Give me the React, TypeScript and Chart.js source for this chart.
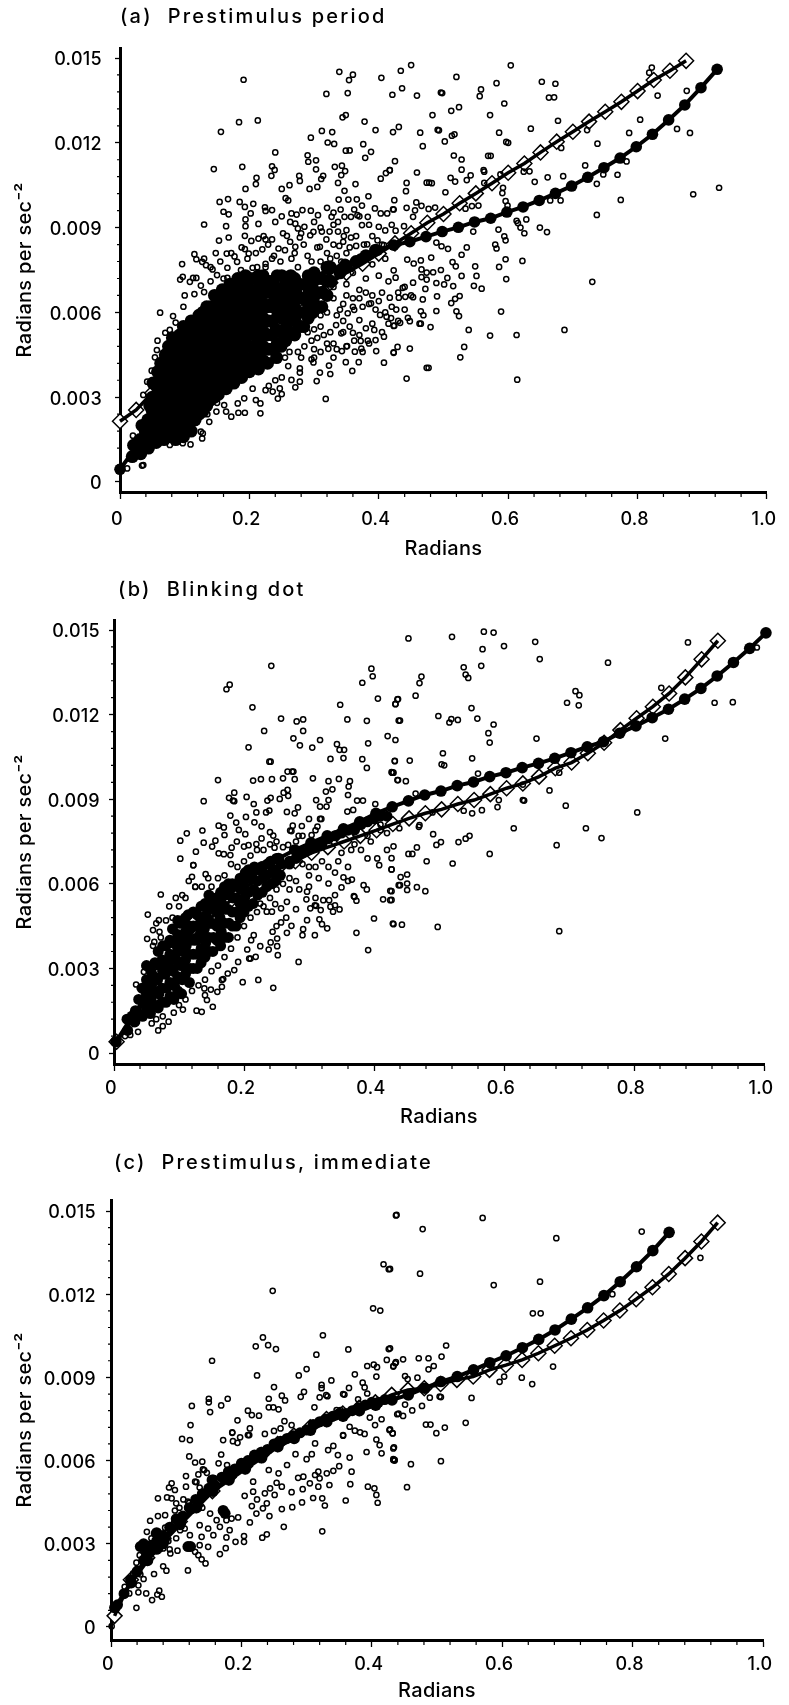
import React, { useEffect, useRef } from "react";
import { Chart, registerables } from "chart.js";

Chart.register(...registerables);

const FONT = "Inter, 'Liberation Sans', Arial, sans-serif";

const xTickValues = [0, 0.2, 0.4, 0.6, 0.8, 1.0];
const xTickLabels = ["0", "0.2", "0.4", "0.6", "0.8", "1.0"];
const yTickValues = [0, 0.003, 0.006, 0.009, 0.012, 0.015];
const yTickLabels = ["0", "0.003", "0.006", "0.009", "0.012", "0.015"];
const xMinorTicks = [0.04, 0.08, 0.12, 0.16, 0.24, 0.28, 0.32, 0.36, 0.44, 0.48, 0.52, 0.56, 0.64, 0.68, 0.72, 0.76, 0.84, 0.88, 0.92, 0.96];
const yMinorTicks = [0.0006, 0.0012, 0.0018, 0.0024, 0.0036, 0.0042, 0.0048, 0.0054, 0.0066, 0.0072, 0.0078, 0.0084, 0.0096, 0.0102, 0.0108, 0.0114, 0.0126, 0.0132, 0.0138, 0.0144];

// (a) Prestimulus period: fitted curves
const aDiamondX = [0, .025, .05, .075, .1, .125, .15, .175, .2, .225, .25, .275, .3, .325, .35, .375, .4, .425, .45, .475, .5, .525, .55, .575, .6, .625, .65, .675, .7, .725, .75, .775, .8, .825, .85, .875];
const aDiamondY = [.00215, .00255, .00315, .00355, .00392, .0043, .00465, .005, .00535, .0057, .00605, .0064, .00672, .00705, .0074, .00772, .00808, .00844, .0088, .00917, .00948, .00986, .01021, .01057, .01094, .01127, .01166, .01204, .01239, .01275, .0131, .01345, .01383, .01422, .01455, .0149];
const aCircleX = [.0, .024, .048, .073, .098, .123, .148, .173, .198, .223, .248, .273, .298, .323, .348, .373, .398, .423, .448, .473, .498, .523, .548, .573, .598, .623, .648, .673, .698, .723, .748, .773, .798, .823, .848, .873, .898, .923];
const aCircleY = [.00045, .0012, .002, .0028, .0035, .0042, .0048, .0054, .0059, .0063, .0067, .007, .00725, .0075, .0077, .0079, .0082, .00838, .0085, .00868, .00886, .00901, .0092, .00933, .00955, .00973, .00996, .01021, .01047, .01078, .01112, .01146, .01186, .0123, .01281, .01334, .01395, .0146];

// (b) Blinking dot: fitted curves
const bDiamondX = [.004, .029, .054, .079, .104, .129, .154, .179, .204, .229, .254, .279, .304, .329, .354, .379, .404, .429, .454, .479, .504, .529, .554, .579, .604, .629, .654, .679, .704, .729, .754, .779, .804, .829, .854, .879, .904, .929];
const bDiamondY = [.0004, .0012, .0021, .0029, .0036, .0043, .0049, .0054, .0059, .0063, .0066, .0068, .0071, .0073, .0075, .0077, .0079, .00812, .00832, .0085, .00864, .00883, .00897, .00918, .00939, .00956, .0098, .0101, .0103, .01063, .011, .01145, .01187, .01228, .01275, .01332, .01396, .01462];
const bCircleX = [.003, .028, .053, .078, .103, .128, .153, .178, .203, .228, .253, .278, .303, .328, .353, .378, .403, .428, .453, .478, .503, .528, .553, .578, .603, .628, .653, .678, .703, .728, .753, .778, .803, .828, .853, .878, .903, .928, .953, .978, 1.003];
const bCircleY = [.0004, .0013, .0021, .003, .0038, .0045, .0052, .0058, .0062, .0066, .0069, .0072, .00745, .0077, .00795, .0082, .0085, .00873, .00894, .00915, .00929, .00948, .00961, .0098, .00994, .01012, .01027, .01045, .01065, .01086, .01104, .01134, .0116, .01189, .01219, .01255, .01293, .01337, .01385, .01435, .0149];

// (c) Prestimulus, immediate: fitted curves
const cDiamondX = [.0055, .0305, .0555, .0805, .1055, .1305, .1555, .1805, .2055, .2305, .2555, .2805, .3055, .3305, .3555, .3805, .4055, .4305, .4555, .4805, .5055, .5305, .5555, .5805, .6055, .6305, .6555, .6805, .7055, .7305, .7555, .7805, .8055, .8305, .8555, .8805, .9055, .9305];
const cDiamondY = [.0004, .0017, .0025, .0032, .0038, .0044, .0049, .0054, .0058, .0062, .0066, .0069, .0072, .0075, .0077, .0079, .0081, .00837, .00855, .00861, .00876, .00891, .00903, .00927, .00944, .00963, .00987, .01014, .01041, .01071, .01105, .01141, .01182, .01225, .01273, .0133, .0139, .01458];
const cCircleX = [.006, .031, .056, .081, .106, .131, .156, .181, .206, .231, .256, .281, .306, .331, .356, .381, .406, .431, .456, .481, .506, .531, .556, .581, .606, .631, .656, .681, .706, .731, .756, .781, .806, .831, .856];
const cCircleY = [.0007, .0016, .0024, .0031, .0037, .0043, .0049, .0053, .0057, .0061, .0065, .0068, .0071, .0074, .0076, .0078, .008, .00819, .00837, .00861, .00885, .00903, .00927, .00953, .00978, .01007, .01037, .01071, .0111, .01151, .01195, .01245, .01299, .01357, .01423];

// (a) individual observations, x then y
const aScatter = [
.45,.01475,.434,.01455,.604,.01474,.52,.01433,.822,.01466,.818,.01448,.652,.01416,.673,.01409,.582,.01411,.436,.01393,.421,.0137,.459,.01367,.496,.01378,.498,.01376,.558,.01389,.556,.01365,.663,.0136,.671,.01361,.594,.01339,.876,.01384,.831,.01367,.524,.01326,.512,.01313,.483,.01298,.572,.01298,.677,.01278,.804,.01282,.431,.01256,.422,.01238,.464,.01236,.491,.01246,.493,.01244,.517,.0123,.513,.01225,.586,.01236,.635,.0125,.861,.01249,.881,.01235,.787,.01235,.722,.01245,.502,.01205,.597,.01203,.6,.012,.468,.01188,.738,.01197,.682,.01182,.516,.01155,.528,.01141,.569,.01154,.573,.01154,.425,.01135,.783,.01134,.417,.01103,.459,.01095,.528,.01105,.562,.01103,.563,.01098,.719,.0112,.624,.01098,.633,.01099,.542,.01085,.511,.01076,.536,.01068,.518,.01063,.661,.01078,.685,.01082,.747,.01088,.769,.01087,.443,.01058,.474,.01059,.478,.01059,.482,.01057,.641,.01062,.737,.01055,.563,.01058,.588,.01088,.442,.01029,.503,.01025,.592,.01041,.591,.01022,.926,.01041,.886,.01018,.774,.00998,.681,.00996,.665,.00996,.424,.00997,.458,.00989,.466,.00977,.477,.00966,.487,.00971,.456,.00961,.443,.0097,.422,.00965,.534,.00967,.544,.00976,.554,.00978,.596,.00994,.599,.00978,.453,.00938,.737,.00945,.628,.00929,.613,.00924,.615,.00916,.619,.009,.649,.009,.66,.00884,.625,.0088,.439,.00905,.426,.00889,.546,.00886,.585,.00893,.594,.00869,.596,.00855,.58,.0084,.582,.00826,.489,.00847,.497,.00834,.507,.00825,.536,.0083,.528,.00804,.481,.00794,.465,.00784,.444,.00787,.454,.00773,.514,.00778,.519,.00763,.596,.00788,.622,.00782,.549,.00763,.586,.00761,.423,.00749,.466,.00752,.474,.00741,.484,.00742,.496,.0075,.551,.00729,.528,.00729,.426,.00723,.597,.00718,.466,.00725,.474,.00716,.506,.00722,.489,.00704,.501,.00699,.453,.00705,.515,.00693,.547,.00694,.559,.00684,.472,.00683,.437,.00687,.73,.00708,.431,.00652,.417,.00652,.441,.00655,.453,.00654,.468,.00646,.49,.00657,.525,.00658,.518,.00648,.512,.00633,.427,.0061,.489,.00605,.465,.00604,.469,.0059,.52,.00604,.524,.00587,.589,.00603,.419,.0058,.445,.00581,.448,.00569,.433,.00563,.424,.00553,.463,.0056,.465,.0056,.48,.00548,.539,.00538,.687,.00538,.572,.00518,.613,.0052,.532,.00478,.429,.00478,.448,.00472,.423,.00459,.526,.00441,.474,.00404,.477,.00404,.443,.00366,.614,.00362,
.191,.01423,.339,.01451,.36,.01441,.354,.01422,.404,.0143,.319,.01373,.352,.01376,.344,.0129,.349,.01298,.184,.01273,.213,.01279,.156,.01239,.378,.01275,.395,.01245,.312,.01242,.328,.01238,.295,.01218,.321,.01201,.331,.01196,.376,.01195,.349,.01172,.355,.01173,.388,.01168,.24,.01166,.29,.01156,.379,.01147,.303,.01138,.291,.01133,.189,.01115,.145,.01107,.235,.01117,.239,.01104,.332,.01115,.343,.01119,.348,.011,.303,.01106,.411,.01093,.417,.01103,.403,.01073,.211,.01076,.234,.01083,.277,.01083,.278,.01065,.314,.01083,.311,.01072,.342,.01086,.21,.01054,.337,.01058,.194,.01037,.262,.0105,.25,.01037,.293,.01037,.305,.01044,.364,.01054,.347,.0103,.384,.01011,.256,.01004,.26,.00996,.167,.01001,.154,.00991,.185,.00991,.193,.00973,.206,.00984,.338,.00999,.353,.00999,.366,.01,.374,.00978,.224,.00972,.235,.00962,.225,.00959,.16,.00956,.168,.00947,.202,.0095,.282,.00962,.273,.00946,.306,.00944,.33,.00953,.341,.00964,.362,.00964,.394,.00968,.403,.0095,.413,.0095,.423,.00964,.383,.00938,.194,.00929,.13,.00911,.164,.00905,.194,.00905,.214,.00913,.263,.0092,.271,.00914,.327,.00938,.337,.0092,.347,.00938,.357,.00938,.367,.00944,.374,.00909,.4,.00903,.275,.00897,.285,.00903,.299,.00885,.312,.00886,.324,.00886,.337,.00886,.35,.00891,.193,.00871,.153,.00854,.168,.00865,.203,.00853,.214,.00861,.225,.00858,.235,.00858,.258,.00871,.278,.00865,.294,.00873,.319,.00858,.357,.00865,.398,.00855,.339,.00835,.365,.00835,.382,.00841,.408,.00838,.193,.00824,.22,.00823,.245,.00826,.271,.00832,.309,.00832,.148,.0081,.165,.00808,.177,.00798,.199,.00808,.115,.00806,.118,.00788,.127,.00779,.133,.00767,.096,.00771,.166,.00758,.181,.00779,.143,.00752,.15,.00732,.118,.00722,.108,.00708,.093,.00716,.097,.00726,.113,.00722,.166,.00722,.175,.00698,.185,.0071,.205,.00758,.225,.00772,.125,.00695,.14,.0071,.1,.0066,.115,.00665,.13,.00672,.098,.0062,.35,.0081,.37,.0079,.39,.0077,.41,.0079,.38,.0072,.36,.0074,.34,.0076,.4,.0073,.415,.0071,.37,.0068,.39,.0066,.405,.0067,.35,.007,.33,.0069,.36,.0065,.345,.0063,.375,.0062,.395,.0061,.33,.0065,
.062,.00599,.082,.00587,.086,.00564,.07,.00528,.077,.00538,.097,.00535,.058,.005,.057,.00467,.054,.00441,.049,.00394,.042,.00355,.036,.00308,.02,.00164,.034,.00058,.011,.00048,.352,.00597,.362,.00609,.37,.00573,.38,.00544,.393,.00538,.408,.00514,.388,.00632,.402,.00591,.412,.00585,.423,.00552,.383,.005,.372,.00499,.362,.005,.395,.00502,.334,.00555,.342,.00526,.36,.00528,.343,.00463,.351,.00481,.363,.00461,.373,.00472,.396,.00463,.423,.00457,.349,.00424,.369,.00424,.408,.00422,.359,.00393,.322,.00471,.296,.00434,.299,.00423,.323,.00412,.309,.00387,.325,.00382,.304,.00357,.318,.00294,.278,.00402,.278,.00387,.278,.00355,.265,.00361,.271,.00335,.25,.00311,.244,.00295,.236,.0032,.247,.00331,.225,.00325,.217,.00243,.217,.00278,.21,.0029,.193,.00245,.183,.00245,.172,.00231,.164,.00249,.182,.00278,.192,.00296,.161,.00272,.149,.00249,.138,.00213,.125,.00178,.128,.00172,.127,.00154,.109,.00133,.097,.00137,.077,.00131,.036,.0006,.3,.0047,.315,.0052,.33,.0049,.345,.0053,.31,.0055,.296,.005,.28,.0044,.26,.0041,.25,.0037,.24,.0036,.23,.0034,.205,.0033,.15,.0028,.135,.0024,
.13,.0079,.14,.0076,.155,.0078,.16,.0072,.172,.0081,.188,.0083,.197,.0079,.21,.0081,.212,.0076,.229,.0084,.238,.008,.248,.0078,.255,.0082,.265,.0079,.263,.0085,.284,.0084,.29,.008,.296,.0078,.305,.0083,.32,.0081,.33,.0084,.335,.008,.345,.0085,.346,.0087,.275,.0076,.28,.0088,.252,.0088,.222,.0087,.235,.0079,.27,.0081,.225,.0076,.187,.0075,.31,.0078,.325,.0079,.342,.0078,.355,.0083,.365,.0087,.377,.0084,.39,.0087,.405,.0084,.41,.0089,.42,.0091,.385,.0091,.37,.0094,.33,.0091,.3,.0092,.31,.009,.24,.0092,.25,.0094,.265,.0095,.295,.0096,.32,.0097,
.3,.0044,.31,.0046,.32,.0049,.335,.0047,.325,.0053,.335,.0059,.345,.0057,.355,.0055,.36,.0062,.35,.0066,.34,.0061,.37,.0065,.38,.0067,.385,.0063,.4,.0064,.41,.006,.42,.0062,.43,.0057,.44,.0061,.43,.0067,.44,.0069,.45,.0066,.39,.0056,.405,.0053,.415,.0056,.385,.0049,.37,.0052,.375,.0046,.35,.0048,.33,.0044,.285,.0048,.275,.0046,.262,.0046,.255,.0044,.305,.0051,.29,.0053,.31,.0059,.32,.006,.3,.0054,.295,.0058
];
// (a) the overplotted part of the cloud, where the open rings merge into black
const aCloud = [
.019,.0009,.021,.0013,.032,.001,.031,.0015,.034,.002,.044,.0012,.045,.0017,.043,.0022,.046,.0027,.056,.0014,.057,.0019,.055,.0024,.057,.0029,.056,.0034,.058,.0039,
.068,.0015,.069,.002,.067,.0025,.07,.003,.068,.0035,.069,.004,.07,.0045,.08,.0017,.081,.0022,.079,.0027,.082,.0032,.08,.0037,.081,.0042,.079,.0047,.081,.0051,
.092,.0018,.093,.0023,.091,.0028,.094,.0033,.092,.0038,.09,.0043,.093,.0048,.092,.0052,.104,.002,.105,.0025,.103,.003,.106,.0035,.104,.004,.102,.0045,.105,.005,.104,.0054,
.116,.0022,.117,.0027,.115,.0032,.118,.0037,.116,.0042,.114,.0047,.117,.0052,.116,.0056,.128,.0025,.129,.003,.127,.0035,.13,.004,.128,.0045,.126,.005,.129,.0055,.128,.006,
.14,.0029,.141,.0033,.139,.0038,.142,.0043,.14,.0048,.138,.0053,.141,.0058,.14,.0062,.152,.0031,.153,.0035,.151,.004,.154,.0045,.152,.005,.15,.0055,.153,.006,.152,.0064,
.164,.0033,.165,.0037,.163,.0042,.166,.0047,.164,.0052,.162,.0057,.165,.0062,.164,.0066,.176,.0035,.177,.0039,.175,.0044,.178,.0049,.176,.0054,.174,.0059,.177,.0064,.176,.0068,
.188,.0037,.189,.0041,.187,.0046,.19,.0051,.188,.0056,.186,.0061,.189,.0066,.188,.007,.2,.0039,.201,.0043,.199,.0048,.202,.0053,.2,.0058,.198,.0063,.201,.0068,.2,.0072,
.214,.004,.215,.0045,.213,.005,.216,.0055,.214,.006,.212,.0065,.215,.0069,.214,.0073,.228,.0042,.229,.0047,.227,.0052,.23,.0057,.228,.0062,.226,.0067,.229,.0071,
.242,.0044,.243,.0049,.241,.0054,.244,.0059,.242,.0064,.24,.0069,.243,.0073,.256,.005,.257,.0055,.255,.006,.258,.0065,.256,.007,.27,.0052,.271,.0057,.269,.0062,.272,.0067,.27,.0072,
.284,.0055,.285,.006,.283,.0065,.286,.007,.298,.006,.299,.0065,.297,.007,.3,.0074,.312,.0062,.313,.0067,.311,.0072,.326,.0071,.325,.0076,.34,.0074,
.038,.0013,.039,.0018,.05,.0015,.05,.002,.05,.0025,.05,.003,.051,.0035,.062,.0017,.062,.0022,.062,.0027,.063,.0032,.062,.0037,.063,.0042,.074,.0018,.074,.0023,.075,.0028,.074,.0033,.075,.0038,.074,.0043,.075,.0048,
.086,.0015,.086,.002,.086,.0025,.087,.003,.086,.0035,.086,.004,.087,.0045,.086,.005,.098,.0016,.098,.0021,.099,.0026,.098,.0031,.098,.0036,.099,.0041,.098,.0046,.098,.0051,.098,.0055,
.11,.0018,.11,.0023,.11,.0028,.111,.0033,.11,.0038,.11,.0043,.111,.0048,.11,.0053,.11,.0057,.122,.0024,.122,.0029,.123,.0034,.122,.0039,.122,.0044,.123,.0049,.122,.0054,.122,.0059,
.134,.0027,.134,.0032,.135,.0037,.134,.0042,.134,.0047,.135,.0052,.134,.0057,.134,.0062,.146,.003,.146,.0036,.147,.0041,.146,.0046,.146,.0051,.147,.0056,.146,.0061,.146,.0066,
.158,.0033,.158,.0038,.159,.0043,.158,.0048,.158,.0053,.159,.0058,.158,.0063,.158,.0068,.17,.0035,.17,.004,.171,.0045,.17,.005,.17,.0055,.171,.006,.17,.0065,.17,.007,
.182,.0037,.182,.0042,.183,.0047,.182,.0052,.182,.0057,.183,.0062,.182,.0067,.182,.0072,.194,.0039,.194,.0044,.195,.0049,.194,.0054,.194,.0059,.195,.0064,.194,.0069,.194,.0073,
.207,.0042,.207,.0047,.208,.0052,.207,.0057,.207,.0062,.208,.0067,.207,.0072,.221,.0043,.221,.0048,.222,.0053,.221,.0058,.221,.0063,.222,.0068,.221,.0073,
.235,.0047,.235,.0052,.236,.0057,.235,.0062,.235,.0067,.236,.0071,.249,.0048,.249,.0053,.25,.0058,.249,.0063,.249,.0068,.25,.0073,
.263,.0053,.263,.0058,.264,.0063,.263,.0068,.264,.0073,.277,.0055,.277,.006,.278,.0065,.277,.007,.291,.0058,.291,.0063,.292,.0068,.291,.0073,.305,.0062,.305,.0067,.306,.0072,.32,.0066,.32,.0071,.32,.0076,.35,.0076,.365,.0078,.38,.008,.395,.0082
];

// (b) individual observations, x then y
const bScatter = [
.453,.0147,.52,.01476,.569,.01494,.584,.01491,.6,.01443,.648,.01458,.567,.01432,.655,.01397,.76,.01384,.883,.01456,.989,.01438,.538,.01368,.565,.01373,.541,.01342,.545,.0133,.473,.01335,.47,.01312,.464,.01267,.437,.01255,.433,.01237,.71,.01283,.716,.01269,.697,.01242,.715,.01233,.842,.01295,.924,.01242,.952,.01244,.55,.01223,.499,.01195,.519,.01184,.516,.01172,.529,.01181,.559,.01186,.44,.01179,.584,.01165,.576,.01134,.578,.01101,.433,.0111,.65,.01115,.848,.01115,.506,.01063,.455,.01037,.432,.01035,.551,.01045,.504,.01024,.508,.0102,.428,.00994,.43,.00994,.56,.00991,.685,.00994,.437,.00968,.449,.00964,.629,.00952,.464,.0092,.67,.00931,.592,.00897,.59,.00872,.629,.00897,.631,.00895,.695,.00877,.805,.00853,.538,.00859,.551,.0085,.566,.00861,.49,.00853,.469,.00802,.47,.00808,.439,.00797,.615,.00797,.726,.00797,.75,.00762,.491,.00776,.503,.00748,.496,.00738,.53,.00748,.541,.0076,.547,.0077,.681,.00737,.43,.00733,.466,.00729,.453,.00706,.459,.00706,.578,.00706,.481,.0068,.427,.00691,.521,.00672,.427,.00651,.451,.00633,.441,.00624,.438,.00595,.44,.00595,.451,.00601,.451,.00578,.466,.00588,.479,.00574,.427,.00574,.427,.00543,.43,.00457,.443,.00455,.498,.00447,.685,.00432,
.242,.01373,.396,.01363,.398,.01336,.178,.01306,.173,.0129,.382,.01313,.213,.01226,.406,.01257,.436,.01254,.433,.01238,.348,.01235,.257,.01186,.281,.01176,.291,.01183,.359,.01183,.389,.01178,.438,.01179,.231,.01142,.291,.01142,.421,.01124,.276,.01116,.317,.0111,.207,.01084,.286,.01091,.305,.01083,.343,.01095,.391,.01098,.347,.01075,.354,.01075,.239,.01033,.241,.01033,.333,.01043,.353,.01046,.382,.01042,.432,.01036,.389,.01011,.427,.00996,.429,.00994,.267,.00998,.274,.00998,.276,.00998,.16,.00968,.214,.00966,.226,.00971,.243,.00971,.26,.00974,.278,.00971,.306,.00974,.33,.00964,.346,.00972,.363,.00964,.436,.00968,.361,.00945,.185,.00923,.261,.00923,.267,.00933,.326,.00927,.336,.00935,.36,.00915,.138,.00893,.177,.00905,.183,.00895,.185,.00893,.204,.00908,.241,.00905,.236,.00895,.255,.00901,.268,.00912,.311,.00897,.33,.00897,.327,.00874,.317,.00874,.374,.00895,.383,.00895,.402,.00883,.215,.00883,.283,.00871,.219,.00853,.234,.00853,.239,.0086,.266,.00855,.278,.0085,.359,.00856,.368,.00862,.179,.00842,.203,.00837,.3,.0083,.317,.0083,.319,.0083,.188,.00817,.216,.00818,.161,.00806,.169,.008,.192,.00791,.227,.00804,.275,.00806,.289,.00805,.313,.00803,.136,.00789,.112,.00779,.102,.00753,.156,.00753,.138,.00746,.151,.00732,.17,.00773,.202,.00776,.24,.00783,.271,.00789,.273,.00787,.245,.00771,.284,.0077,.304,.00773,.227,.00761,.189,.0075,.219,.00741,.2,.00732,.207,.00737,.247,.00728,.268,.00738,.181,.00728,.126,.00714,.161,.00708,.169,.00705,.179,.00702,.102,.00689,.122,.00666,
.353,.00623,.366,.00615,.384,.00595,.389,.0058,.427,.00651,.408,.00666,.425,.00575,.414,.00545,.425,.00542,.35,.00587,.369,.00556,.37,.00554,.373,.0054,.4,.00477,.429,.00459,.373,.00426,.391,.00365,.297,.00572,.296,.00545,.33,.00601,.322,.00542,.331,.00542,.309,.00524,.311,.00522,.302,.00513,.318,.00507,.333,.00519,.34,.00524,.347,.00509,.337,.00501,.297,.00471,.316,.00474,.32,.00457,.328,.00442,.309,.00418,.29,.00418,.291,.00439,.273,.00451,.266,.00426,.257,.00463,.244,.0043,.251,.00406,.241,.00392,.251,.00379,.238,.00367,.225,.00379,.252,.00347,.284,.00323,.205,.00367,.211,.004,.215,.00418,.208,.00335,.21,.00335,.218,.00341,.191,.00323,.185,.00294,.175,.00282,.222,.00259,.198,.00251,.245,.00231,.166,.00259,.168,.00262,.166,.00235,.159,.00217,.149,.00225,.139,.00229,.14,.00205,.143,.00188,.152,.00164,.135,.00146,.127,.0015,.106,.00154,.092,.00143,.084,.00111,.075,.00095,.068,.0008,.037,.00075,.058,.00105,.017,.0006,.025,.00064,.034,.00243,.046,.00288,.051,.00405,.06,.00436,.062,.00394,.069,.00471,.07,.0043,.052,.00491,.072,.00562,.12,.00625,.122,.00666,.141,.00634,.125,.00589,.257,.00513,.225,.0053,.248,.00528,.266,.00536,.235,.00501,.243,.00501,.28,.0061,.3,.0063,.31,.0066,.29,.0067,.32,.0068,.34,.0064,.345,.0068,.36,.0066,.38,.0072,.365,.0072,.395,.0075,.41,.0079,.42,.0072,.405,.0069,
.06,.0038,.065,.0046,.072,.0041,.08,.0047,.085,.0052,.09,.0048,.095,.0055,.1,.0052,.105,.0056,.11,.0055,.115,.0061,.125,.0059,.135,.0059,.145,.0062,.15,.0059,.16,.0062,.17,.0063,.18,.0067,.19,.0066,.2,.0068,.21,.007,.22,.0072,.23,.0072,.24,.0074,.25,.0075,.26,.0073,.28,.0075,.29,.0077,.31,.0079,.3,.0066,.27,.0062,.26,.006,.25,.0058,.24,.0055,.23,.0052,.22,.005,.21,.0048,.2,.0045,.19,.0041,.18,.0037,.17,.0034,.16,.0031,.15,.0029,.14,.0026,.13,.0024,.12,.0022,.11,.0019,.1,.0017,.075,.0013,.065,.0012,.27,.0058,.285,.0058,.3,.0059,.315,.0062,.33,.0066,.35,.0071,.37,.0074,.39,.0077,.41,.0081,.42,.0078,.39,.0069,.36,.0061,.34,.0056,.31,.0055,.28,.0051,.265,.0048,.25,.0045
];
// (b) the overplotted part of the cloud
const bCloud = [
.021,.0008,.02,.0012,.032,.0011,.033,.0015,.044,.0013,.045,.0018,.043,.0023,.056,.0014,.057,.0019,.055,.0024,.057,.0029,.068,.0016,.069,.0021,.067,.0026,.07,.0031,.068,.0036,
.08,.0018,.081,.0023,.079,.0028,.082,.0033,.08,.0038,.092,.0019,.093,.0024,.091,.0029,.094,.0034,.092,.0039,.09,.0044,.104,.0021,.105,.0026,.103,.0031,.106,.0036,.104,.0041,.102,.0046,
.116,.0025,.117,.003,.115,.0035,.118,.004,.116,.0045,.114,.0049,.128,.003,.129,.0035,.127,.004,.13,.0045,.128,.0049,.14,.0034,.141,.0039,.139,.0044,.142,.0049,.14,.0053,
.152,.0036,.153,.0041,.151,.0046,.154,.0051,.152,.0055,.164,.0038,.165,.0043,.163,.0048,.166,.0053,.164,.0057,.176,.0041,.177,.0046,.175,.0051,.178,.0056,.176,.006,
.188,.0045,.189,.005,.187,.0055,.19,.0059,.2,.005,.201,.0055,.199,.006,.202,.0064,.214,.0053,.215,.0058,.213,.0062,.216,.0066,.228,.0057,.229,.0062,.227,.0066,.242,.006,.243,.0064,.241,.0068,.256,.0063,.257,.0067,.27,.0068,
.038,.0014,.038,.0019,.05,.0016,.05,.0021,.05,.0026,.05,.0031,.062,.0017,.062,.0022,.062,.0027,.063,.0032,.074,.0018,.074,.0023,.075,.0028,.074,.0033,.075,.0038,.086,.002,.086,.0025,.087,.003,.086,.0035,.086,.004,.098,.0022,.098,.0027,.099,.0032,.098,.0037,.098,.0042,.098,.0047,.11,.0028,.11,.0033,.111,.0038,.11,.0043,.11,.0048,.122,.003,.122,.0035,.123,.004,.122,.0045,.122,.005,.134,.0032,.134,.0037,.135,.0042,.134,.0047,.134,.0052,.146,.0036,.146,.0041,.147,.0046,.146,.0051,.146,.0056,.158,.004,.158,.0045,.159,.005,.158,.0055,.17,.0041,.17,.0046,.171,.0051,.17,.0056,.17,.0059,.182,.0045,.182,.005,.183,.0055,.182,.006,.194,.0048,.194,.0053,.195,.0058,.194,.0062,.207,.0052,.207,.0057,.208,.0062,.207,.0065,.221,.0056,.221,.0061,.222,.0065,.235,.0059,.235,.0063,.236,.0067,.249,.0061,.249,.0065,.25,.0069,
.27,.0067,.28,.0069,.29,.0071,.3,.0072,.31,.0073,.32,.0074,.33,.0076,.34,.0077,.35,.0078,.36,.0079,.37,.0079,.38,.0081,.39,.0082,.4,.0083,.41,.0084,.42,.0084
];

// (c) individual observations, x then y
const cScatter = [
.437,.01484,.418,.01308,.426,.0129,.248,.01212,.402,.01149,.413,.01141,.233,.01044,.222,.01012,.241,.01016,.253,.01002,.325,.01052,.315,.00982,.364,.01001,.426,.01002,.155,.0096,.3,.0093,.288,.00907,.224,.00907,.423,.00963,.436,.00951,.433,.00939,.403,.00946,.393,.00941,.408,.00937,.407,.00903,.374,.00911,.338,.00889,.386,.00881,.389,.00864,.25,.00865,.323,.00873,.323,.00861,.365,.00862,.393,.00842,.296,.00848,.291,.0083,.262,.00834,.267,.00817,.242,.00823,.15,.00823,.15,.0081,.169,.00799,.179,.00823,.152,.00775,.124,.00797,.242,.00792,.249,.00792,.257,.00785,.32,.00828,.33,.00836,.332,.00832,.356,.0084,.358,.00838,.379,.00821,.21,.0078,.216,.00764,.227,.00762,.194,.00745,.312,.00792,.346,.00782,.352,.00782,.122,.00728,.266,.00742,.26,.00716,.277,.00728,.213,.00716,.25,.00707,.186,.00702,.236,.00696,.21,.00692,.212,.00692,.198,.00684,.397,.00755,.415,.00749,.439,.00767,.366,.00722,.374,.00708,.382,.00702,.389,.00696,.405,.00728,.427,.0071,.432,.00698,.356,.00692,.109,.00678,.121,.00674,.172,.00674,
.186,.007,.187,.0067,.194,.00664,.169,.00622,.12,.00615,.129,.00593,.14,.00596,.165,.0059,.178,.00584,.115,.00544,.134,.0055,.141,.00568,.143,.00566,.157,.00538,.159,.00535,.155,.00535,.147,.00556,.093,.00518,.098,.00494,.089,.00503,.115,.00506,.129,.00524,.131,.00522,.136,.00503,.149,.00494,.151,.00492,.072,.00464,.086,.00467,.111,.0046,.131,.00464,.093,.00464,.1,.00446,.118,.00452,.12,.00448,.072,.004,.083,.00403,.106,.00391,.06,.00383,.083,.00358,.055,.00343,.066,.00337,.05,.00301,.06,.00301,.07,.00295,.08,.00283,.091,.00265,.102,.00275,.116,.00292,.118,.00292,.12,.0029,.106,.00349,.096,.00373,.113,.00355,.121,.00331,.136,.00367,.152,.00409,.162,.00385,.172,.00422,.174,.0042,.17,.0042,.177,.00385,.185,.00391,.195,.00395,.167,.00361,.182,.00349,.149,.00355,.157,.00331,.139,.00325,.129,.00271,.136,.00295,.149,.00289,.134,.00259,.139,.00244,.145,.00229,.167,.00263,.176,.00284,.177,.00323,.191,.00307,.204,.00328,.204,.00307,.118,.00204,.039,.00232,.044,.00259,.055,.00241,.08,.00219,.085,.00203,.066,.00191,.05,.00173,.034,.00193,.042,.0015,.054,.00121,.042,.00125,.074,.00131,.071,.00117,.078,.00109,.063,.00097,.039,.00069,.028,.00121,.021,.00145,.001,.00003,.05,.0027,.06,.0027,.07,.0031,.062,.0032,.075,.0028,.088,.0031,.09,.0028,.1,.0032,.03,.0017,.04,.0021,.045,.0019,.11,.0038,.125,.0042,.14,.0043,.098,.0042,.105,.0043,
.205,.00473,.218,.00488,.224,.0046,.216,.00436,.213,.00377,.223,.00409,.233,.00428,.243,.004,.239,.00446,.262,.00425,.278,.00432,.265,.00361,.232,.00322,.239,.00334,.324,.00345,.293,.00449,.31,.00465,.324,.00464,.328,.00438,.36,.00456,.409,.00448,.407,.00476,.394,.00506,.404,.005,.367,.00515,.335,.00512,.318,.00506,.294,.00497,.305,.00518,.277,.00486,.262,.00506,.254,.0052,.244,.005,.251,.00476,.236,.00482,.369,.0056,.35,.0058,.341,.00563,.331,.00554,.318,.0056,.32,.00536,.287,.00538,.295,.00542,.313,.00548,.348,.0062,.366,.00611,.308,.00623,.3,.00605,.283,.00623,.27,.00584,.257,.00554,.242,.00566,.392,.00631,.415,.00626,.412,.00656,.407,.00676,.433,.00602,.435,.006,.433,.00644,.356,.0069,.341,.00653,.333,.00638,.313,.00662,.218,.00524,
.438,.01486,.478,.01435,.57,.01475,.428,.01291,.474,.01274,.814,.01426,.683,.01402,.904,.01331,.587,.01233,.658,.01245,.647,.01131,.659,.01131,.769,.012,.514,.01015,.428,.01005,.507,.00975,.472,.00969,.487,.00969,.448,.00965,.437,.00955,.433,.00941,.495,.00941,.487,.00929,.678,.00939,.451,.00905,.455,.00894,.47,.00899,.603,.00903,.596,.00884,.63,.00899,.646,.00876,.553,.00826,.489,.00827,.504,.00831,.506,.00829,.451,.00802,.477,.00797,.462,.00781,.441,.00769,.448,.00761,.483,.0073,.49,.0073,.544,.00736,.512,.00719,.499,.00699,.432,.00699,.428,.00713,.434,.00648,.433,.00605,.435,.00603,.506,.00598,.46,.00587,.454,.00504
];
// (c) where the rings and curves merge into black
const cCloud = [
.01,.0008,.02,.0012,.03,.0017,.04,.002,.05,.0024,.06,.0028,.07,.0031,.08,.0033,.09,.0036,.1,.0039,.11,.004,.12,.0043,.13,.0046,.14,.0048,.15,.005,.16,.0051,.17,.0054,.18,.0056,.19,.0057,.2,.0059,.21,.006,.22,.0062,.23,.0063,.24,.0064,.25,.0066,.26,.0067,.27,.0068,.28,.0069,.29,.007,.3,.0071,.31,.0073,.32,.0074,.33,.0075,.34,.0076,.35,.0077,.36,.0077,.37,.0078,.38,.0079,.39,.008,.4,.0081,.41,.0081,.42,.0082,
.045,.0029,.05,.003,.06,.0029,.07,.0028,.055,.0027,.08,.003,.118,.0029,.122,.0029,.155,.0053,.172,.0042,.175,.0041,.07,.0034
];

// Plot areas and text offsets of the three panels, in pixels of each canvas
const panels = [
  { title: "(a)  Prestimulus period", top: 0, height: 570, left: 120, right: 14, titleTop: 7, titleBottom: 21, titleDx: 0, xH: 78, xTitlePad: 9, xTickPad: 10, yTickPad: 13, yMin: -0.000354, yMax: 0.015354, cloudR: 6.5,
    scatter: aScatter, cloud: aCloud, dX: aDiamondX, dY: aDiamondY, cX: aCircleX, cY: aCircleY },
  { title: "(b)  Blinking dot", top: 570, height: 570, left: 114, right: 25, titleTop: 10, titleBottom: 20, titleDx: 4, xH: 76, xTitlePad: 11, xTickPad: 7, yTickPad: 9, yMin: -0.00039, yMax: 0.015355, cloudR: 5.5,
    scatter: bScatter, cloud: bCloud, dX: bDiamondX, dY: bDiamondY, cX: bCircleX, cY: bCircleY },
  { title: "(c)  Prestimulus, immediate", top: 1140, height: 565, left: 111, right: 26, titleTop: 13, titleBottom: 27, titleDx: 3, xH: 65, xTitlePad: 2, xTickPad: 7, yTickPad: 10, yMin: -0.00047, yMax: 0.015397, cloudR: 5.5,
    scatter: cScatter, cloud: cCloud, dX: cDiamondX, dY: cDiamondY, cX: cCircleX, cY: cCircleY },
];

const pairs = (flat: number[]) => {
  const out: { x: number; y: number }[] = [];
  for (let i = 0; i + 1 < flat.length; i += 2) out.push({ x: flat[i], y: flat[i + 1] });
  return out;
};
const zip = (xs: number[], ys: number[]) => xs.map((x, i) => ({ x, y: ys[i] }));

const figurePlugin = {
  id: "figure",
  afterLayout(chart: any) {
    const block = chart.titleBlock;
    const opts = chart.options.plugins.figure;
    if (block) {
      block.left += opts.titleDx;
      block.right += opts.titleDx;
      if (!block.__spaced) {
        const draw = block.draw;
        block.draw = function (this: any, ...args: any[]) {
          chart.ctx.letterSpacing = "2.2px";
          draw.apply(this, args);
          chart.ctx.letterSpacing = "0.3px";
        };
        block.__spaced = true;
      }
    }
  },
  beforeDraw(chart: any) {
    chart.ctx.letterSpacing = "0.3px";
  },
  afterDraw(chart: any) {
    const { ctx, chartArea, scales } = chart;
    ctx.save();
    ctx.strokeStyle = "#000";
    ctx.lineWidth = 1.2;
    ctx.beginPath();
    xMinorTicks.forEach((v) => {
      const px = scales.x.getPixelForValue(v);
      ctx.moveTo(px, chartArea.bottom);
      ctx.lineTo(px, chartArea.bottom + 5);
    });
    yMinorTicks.forEach((v) => {
      const py = scales.y.getPixelForValue(v);
      ctx.moveTo(chartArea.left, py);
      ctx.lineTo(chartArea.left - 3, py);
    });
    ctx.stroke();
    ctx.restore();
  },
};

function Panel({ p }: { p: (typeof panels)[number] }) {
  const ref = useRef<HTMLCanvasElement | null>(null);
  useEffect(() => {
    if (!ref.current) return;
    const chart = new Chart(ref.current, {
      type: "scatter",
      plugins: [figurePlugin],
      data: {
        datasets: [
          { label: "Fit, filled", data: zip(p.cX, p.cY), showLine: true, borderColor: "#000", borderWidth: 4, pointStyle: "circle", pointRadius: 5.8, pointBackgroundColor: "#000", pointBorderColor: "#000", pointBorderWidth: 0, order: 1, clip: false },
          { label: "Observations", data: pairs(p.scatter), showLine: false, pointStyle: "circle", pointRadius: 2.6, pointBackgroundColor: "rgba(0,0,0,0)", pointBorderColor: "#000", pointBorderWidth: 1.5, order: 2, clip: false },
          { label: "Observations, overplotted", data: pairs(p.cloud), showLine: false, pointStyle: "circle", pointRadius: p.cloudR, pointBackgroundColor: "#000", pointBorderWidth: 0, order: 3, clip: false },
          { label: "Fit, open line", data: zip(p.dX, p.dY), showLine: true, borderColor: "#000", borderWidth: 3.5, pointRadius: 0, order: 4, clip: false },
          { label: "Fit, open", data: zip(p.dX, p.dY), showLine: false, pointStyle: "rectRot", pointRadius: 7.5, pointBackgroundColor: "#fff", pointBorderColor: "#000", pointBorderWidth: 1.5, order: 5, clip: false },
        ] as any,
      },
      options: {
        animation: false,
        responsive: false,
        devicePixelRatio: 1,
        events: [],
        layout: { padding: { left: 0, right: p.right, top: 0, bottom: 0 } },
        plugins: {
          legend: { display: false },
          tooltip: { enabled: false },
          title: {
            display: true,
            text: p.title,
            align: "start",
            fullSize: false,
            color: "#000",
            font: { family: FONT, size: 20, weight: "500", lineHeight: 1 },
            padding: { top: p.titleTop, bottom: p.titleBottom },
          },
          figure: { titleDx: p.titleDx },
        },
        scales: {
          x: {
            type: "linear",
            min: 0,
            max: 1,
            afterFit: (s: any) => { s.height = p.xH; },
            afterBuildTicks: (s: any) => { s.ticks = xTickValues.map((value) => ({ value })); },
            grid: { drawOnChartArea: false, drawTicks: true, tickLength: 7, tickColor: "#000", tickWidth: 1.3 },
            border: { display: true, color: "#000", width: 3 },
            ticks: {
              autoSkip: false, maxRotation: 0, color: "#000", padding: p.xTickPad, labelOffset: -3,
              font: { family: FONT, size: 18, weight: "500" },
              callback: (_v: any, i: number) => xTickLabels[i],
            },
            title: { display: true, text: "Radians", color: "#000", font: { family: FONT, size: 20, weight: "500" }, padding: { top: 0, bottom: p.xTitlePad } },
          },
          y: {
            type: "linear",
            min: p.yMin,
            max: p.yMax,
            afterFit: (s: any) => { s.width = p.left; },
            afterBuildTicks: (s: any) => { s.ticks = yTickValues.map((value) => ({ value })); },
            grid: { drawOnChartArea: false, drawTicks: true, tickLength: 5, tickColor: "#000", tickWidth: 1.3 },
            border: { display: true, color: "#000", width: 3 },
            ticks: {
              autoSkip: false, maxRotation: 0, color: "#000", padding: p.yTickPad, labelOffset: 2,
              font: { family: FONT, size: 18, weight: "500" },
              callback: (_v: any, i: number) => yTickLabels[i],
            },
            title: { display: true, text: "Radians per sec\u207B\u00B2", color: "#000", font: { family: FONT, size: 20, weight: "500" }, padding: { top: 13, bottom: 0 } },
          },
        },
      } as any,
    });
    return () => chart.destroy();
  }, [p]);
  return (
    <canvas
      ref={ref}
      width={789}
      height={p.height}
      style={{ position: "absolute", left: 0, top: p.top, width: 789, height: p.height, display: "block" }}
    />
  );
}

export default function App() {
  return (
    <div style={{ position: "absolute", left: 0, top: 0, width: 789, height: 1705, background: "#fff", overflow: "hidden" }}>
      {panels.map((p) => (
        <Panel key={p.title} p={p} />
      ))}
    </div>
  );
}
